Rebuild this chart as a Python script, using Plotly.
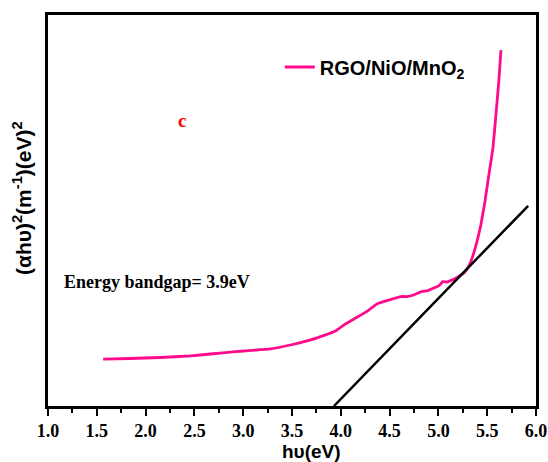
import plotly.graph_objects as go

# Tauc plot data: photon energy (eV) and (alpha*h*nu)^2 in arbitrary units
hv = [1.565, 1.842, 2.150, 2.458, 2.663, 2.920, 3.023, 3.279, 3.485, 3.690,
      3.844, 3.947, 4.049, 4.152, 4.255, 4.378, 4.491, 4.614, 4.676, 4.747,
      4.819, 4.891, 4.953, 5.004, 5.045, 5.086, 5.137, 5.199, 5.261, 5.312,
      5.353, 5.394, 5.435, 5.476, 5.517, 5.559, 5.589, 5.620, 5.641]
ahv2 = [12.0, 12.15, 12.4, 12.8, 13.3, 13.9, 14.1, 14.6, 15.6, 16.9,
        18.2, 19.2, 21.0, 22.5, 24.0, 26.2, 27.1, 28.0, 28.0, 28.4,
        29.2, 29.5, 30.2, 30.7, 31.8, 31.7, 32.2, 33.0, 34.0, 35.8,
        38.4, 41.9, 46.3, 52.2, 59.1, 66.0, 74.4, 83.4, 91.0]

# Linear extrapolation of the absorption edge
fit_x = [3.93, 5.92]
fit_y = [0.0, 51.2]

x_ticks = [1.0, 1.5, 2.0, 2.5, 3.0, 3.5, 4.0, 4.5, 5.0, 5.5, 6.0]
x_tick_labels = ["1.0", "1.5", "2.0", "2.5", "3.0", "3.5", "4.0", "4.5", "5.0", "5.5", "6.0"]

PINK = "#ff0a8c"
SERIF = "Liberation Serif, Times New Roman, serif"
SANS = "Liberation Sans, Arial, sans-serif"

fig = go.Figure()
fig.add_trace(go.Scatter(
    x=hv, y=ahv2, mode="lines", name="<b>RGO/NiO/MnO<sub>2</sub></b>",
    line=dict(color=PINK, width=2.8, shape="spline", smoothing=0.3),
))
fig.add_trace(go.Scatter(
    x=fit_x, y=fit_y, mode="lines", showlegend=False,
    line=dict(color="black", width=2.5),
))

fig.add_annotation(x=2.37, y=73, text="<b>c</b>", showarrow=False,
                   font=dict(family=SERIF, size=19, color="#ff0000"))
fig.add_annotation(x=0.028, xref="x domain", y=31.7, text="<b>Energy bandgap= 3.9eV</b>",
                   showarrow=False, xanchor="left",
                   font=dict(family=SERIF, size=18, color="black"))

# axis titles placed as annotations so they can sit off-centre
fig.add_annotation(x=0.539, xref="paper", y=-0.1176, yref="paper",
                   text="<b>hυ(eV)</b>", showarrow=False,
                   xanchor="center", yanchor="middle",
                   font=dict(family=SANS, size=19, color="black"))
fig.add_annotation(x=-26 / 488, xref="paper", y=(406 - 198) / 391, yref="paper",
                   text="<b>(αhυ)<sup>2</sup>(m<sup>-1</sup>)(eV)<sup>2</sup></b>",
                   showarrow=False, textangle=-90,
                   xanchor="center", yanchor="middle",
                   font=dict(family=SANS, size=21, color="black"))

fig.update_layout(
    width=548, height=462,
    margin=dict(l=48, r=12, t=15, b=56),
    paper_bgcolor="white", plot_bgcolor="white",
    showlegend=True,
    legend=dict(x=0.475, y=0.867, xanchor="left", yanchor="middle",
                bgcolor="rgba(0,0,0,0)",
                font=dict(family=SANS, size=20, color="black")),
)
fig.update_xaxes(
    automargin=False,
    range=[1.0, 6.0], tickvals=x_ticks,
    ticktext=["<b>" + t + "</b>" for t in x_tick_labels],
    ticks="outside", ticklen=7, tickwidth=2, tickcolor="black",
    minor=dict(ticks="outside", ticklen=4, tickwidth=2, tickcolor="black", dtick=0.25),
    showline=True, linewidth=2.5, linecolor="black", mirror=True,
    showgrid=False, zeroline=False,
    tickfont=dict(family=SERIF, size=18, color="black"),
)
fig.update_yaxes(
    automargin=False,
    range=[0, 100], showticklabels=False, ticks="",
    showline=True, linewidth=2.5, linecolor="black", mirror=True,
    showgrid=False, zeroline=False,
)

fig.write_html("out.html")
